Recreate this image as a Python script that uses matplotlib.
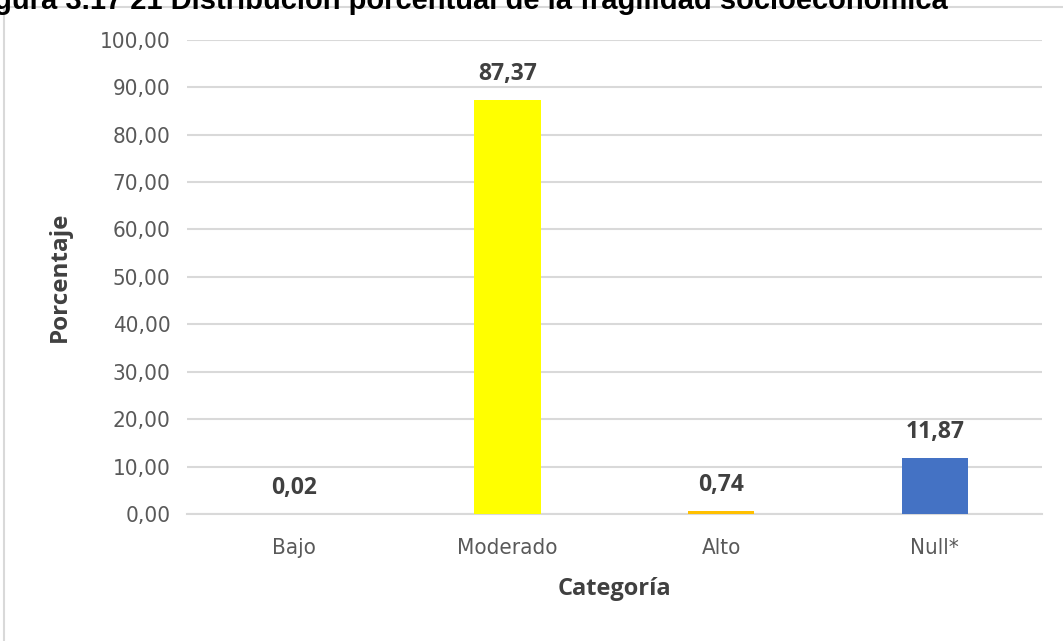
import matplotlib.pyplot as plt
import matplotlib.patches as patches

categorias = ['Bajo', 'Moderado', 'Alto', 'Null*']
porcentajes = [0.02, 87.37, 0.74, 11.87]
colores = ['#70AD47', '#FFFF00', '#FFC000', '#4472C4']
yticks = [0, 10, 20, 30, 40, 50, 60, 70, 80, 90, 100]

plt.rcParams['font.family'] = ['DejaVu Sans']
plt.rcParams['font.stretch'] = 'condensed'

fig = plt.figure(figsize=(10.63, 6.41), dpi=100)
ax = fig.add_axes([0.176, 0.198, 0.804, 0.74])

x = range(len(categorias))
ax.bar(x, porcentajes, width=0.31, color=colores, zorder=3)
for xi, v in zip(x, porcentajes):
    ax.annotate(f'{v:.2f}'.replace('.', ','), (xi, v), xytext=(0, 10), textcoords='offset points',
                ha='center', va='bottom', fontsize=16.5, fontweight='bold', color='#404040',
                family=['Open Sans', 'DejaVu Sans'])

ax.set_ylim(0, 100)
ax.set_xlim(-0.5, 3.5)
ax.set_yticks(yticks)
ax.set_yticklabels([f'{t:.2f}'.replace('.', ',') for t in yticks])
ax.set_xticks(list(x))
ax.set_xticklabels(categorias)
ax.tick_params(length=0, labelsize=16, colors='#595959', pad=12)
ax.tick_params(axis='x', pad=17)
ax.grid(axis='y', color='#D9D9D9', linewidth=1.5, zorder=0)
for s in ['top', 'right', 'left']:
    ax.spines[s].set_visible(False)
ax.spines['bottom'].set_color('#D9D9D9')
ax.spines['bottom'].set_linewidth(1.5)

ax.set_ylabel('Porcentaje', fontsize=17.5, fontweight='bold', color='#404040',
              family=['Open Sans', 'DejaVu Sans'], fontstretch='normal', labelpad=20)
ax.set_xlabel('Categoría', fontsize=17, fontweight='bold', color='#404040',
              family=['Open Sans', 'DejaVu Sans'], fontstretch='normal', labelpad=14)

# marco del gráfico
fig.patches.append(patches.Rectangle((0.004, -0.2), 1.2, 1.189, transform=fig.transFigure,
                                     fill=False, edgecolor='#D9D9D9', linewidth=1.5))
# titulo recortado arriba (como en la captura original)
fig.text(0.892, 0.986, 'Figura 3.17 21 Distribución porcentual de la fragilidad socioeconómica',
         ha='right', va='baseline', fontsize=21, fontweight='bold',
         family=['Liberation Sans', 'DejaVu Sans'], fontstretch='normal', color='black')

fig.savefig('out.png', dpi=100)
